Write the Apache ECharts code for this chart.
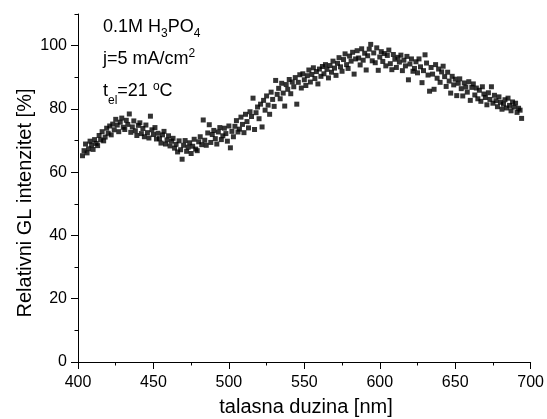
<!DOCTYPE html>
<html>
<head>
<meta charset="UTF-8">
<title>GL spektar</title>
<script src="https://cdn.jsdelivr.net/npm/echarts@6/dist/echarts.min.js"></script>
<style>
  html, body { margin: 0; padding: 0; background: #fff; }
  #chart { width: 547px; height: 419px; }
</style>
</head>
<body>
<div id="chart"></div>
<script>
// talasna duzina [nm]: prva tacka i korak mjerenja
const lambdaStart = 403;
const lambdaStep = 1;

// relativni GL intenzitet [%], ocitano sa slike (403..694 nm)
const intenzitet = [
  65.2, 66.8, 68.9, 66.1, 67.4, 69.8, 68.6, 67.2, 70.3, 69.1,
  68.4, 71.6, 70.2, 72.8, 69.9, 71.1, 73.9, 72.3, 74.6, 71.8,
  75.2, 73.4, 76.7, 74.9, 72.8, 75.8, 77.1, 74.2, 73.5, 76.4,
  75.1, 78.4, 72.6, 74.3, 76.2, 73.1, 71.6, 74.8, 75.6, 72.2,
  73.8, 71.2, 74.9, 72.5, 70.8, 77.7, 73.4, 71.9, 74.1, 70.5,
  72.3, 70.6, 69.2, 71.8, 72.9, 68.9, 70.2, 71.5, 68.3, 69.8,
  70.7, 67.6, 68.8, 66.4, 69.9, 67.1, 64.1, 68.5, 70.0, 66.6,
  67.9, 69.3, 65.9, 68.2, 70.4, 67.3, 66.8, 69.6, 71.2, 68.7,
  76.5, 70.1, 68.5, 72.4, 75.0, 69.4, 71.9, 73.2, 70.6, 68.9,
  72.7, 74.1, 70.3, 71.5, 73.9, 72.2, 69.8, 74.6, 67.7, 72.9,
  71.2, 74.5, 76.3, 72.7, 73.6, 77.4, 75.1, 72.5, 78.3, 76.0,
  74.0, 79.1, 77.6, 83.4, 73.5, 78.8, 80.6, 76.9, 81.5, 74.3,
  82.7, 79.6, 84.1, 81.2, 78.3, 85.3, 83.0, 80.8, 89.0, 84.6,
  86.5, 83.2, 88.1, 85.0, 80.9, 87.7, 86.2, 89.3, 84.8, 88.5,
  87.0, 89.9, 81.5, 88.4, 90.8, 86.6, 91.1, 89.2, 87.4, 90.5,
  92.3, 88.5, 90.9, 93.0, 89.6, 91.8, 87.9, 92.6, 90.3, 93.4,
  91.1, 94.0, 92.5, 89.8, 93.7, 91.6, 95.1, 92.9, 90.6, 94.4,
  96.2, 93.3, 91.9, 95.6, 97.4, 94.0, 92.8, 96.7, 95.1, 97.9,
  91.0, 95.8, 98.4, 96.1, 93.9, 99.0, 95.4, 97.6, 92.3, 96.8,
  98.9, 100.4, 95.2, 97.7, 94.6, 99.3, 92.2, 96.4, 98.1, 95.0,
  97.5, 93.6, 96.9, 98.6, 94.3, 92.4, 97.2, 95.7, 93.1, 96.3,
  94.8, 97.0, 92.1, 95.4, 93.6, 96.6, 89.2, 94.2, 95.8, 91.9,
  92.8, 94.9, 91.4, 95.8, 93.3, 88.3, 92.1, 97.1, 94.5, 90.7,
  85.6, 93.1, 91.0, 86.2, 94.0, 89.7, 92.6, 88.4, 91.7, 93.5,
  90.2, 87.1, 91.6, 88.8, 85.0, 90.3, 87.6, 89.4, 84.2, 88.1,
  89.5, 86.4, 84.1, 88.2, 86.9, 85.3, 88.6, 82.7, 86.8, 87.9,
  84.4, 86.6, 83.2, 85.9, 82.4, 87.0, 84.7, 83.6, 81.3, 85.1,
  83.0, 87.0, 81.8, 84.3, 82.6, 80.7, 83.8, 82.1, 79.9, 81.5,
  82.9, 80.3, 83.4, 81.1, 79.4, 82.2, 80.6, 81.8, 78.9, 80.2,
  79.6, 77.0
];

const yLabels = [0, 20, 40, 60, 80, 100];
const yMinor = [10, 30, 50, 70, 90, 110];

const FONT = "'Liberation Sans', Arial, sans-serif";

const points = intenzitet.map((v, i) => [lambdaStart + i * lambdaStep, v]);

const gridBox = { left: 78, right: 15, top: 14, bottom: 57 };

const chart = echarts.init(document.getElementById('chart'), null, { renderer: 'canvas' });
chart.setOption({
  animation: false,
  backgroundColor: '#fff',
  grid: [
    Object.assign({ containLabel: false }, gridBox),
    Object.assign({ containLabel: false }, gridBox)
  ],
  xAxis: [{
    type: 'value', gridIndex: 0,
    min: 400, max: 700, interval: 50,
    axisLine: { lineStyle: { color: '#000', width: 1 } },
    axisTick: { length: 7, lineStyle: { color: '#000' } },
    minorTick: { show: true, splitNumber: 2, length: 3.5, lineStyle: { color: '#000' } },
    axisLabel: { color: '#000', fontSize: 16, fontFamily: FONT, margin: 13 },
    splitLine: { show: false }
  }, {
    type: 'value', gridIndex: 1, min: 400, max: 700, show: false
  }],
  yAxis: [{
    type: 'value', gridIndex: 0,
    min: 0, max: 110, interval: 10,
    axisLine: { show: true, lineStyle: { color: '#000', width: 1 } },
    axisTick: { show: true, length: 7, customValues: yLabels, lineStyle: { color: '#000' } },
    axisLabel: { color: '#000', fontSize: 16, fontFamily: FONT, margin: 11, customValues: yLabels },
    splitLine: { show: false }
  }, {
    type: 'value', gridIndex: 1,
    min: 0, max: 110, interval: 10,
    axisLine: { show: false },
    axisTick: { show: true, length: 3.5, customValues: yMinor, lineStyle: { color: '#000' } },
    axisLabel: { show: false },
    splitLine: { show: false }
  }],
  series: [{
    type: 'scatter',
    xAxisIndex: 0, yAxisIndex: 0,
    data: points,
    symbol: 'rect',
    symbolSize: 5,
    itemStyle: { color: '#000' }
  }],
  graphic: [{
    type: 'text', left: 103, top: 15,
    style: {
      text: '0.1M H{sb|3}PO{sb|4}',
      fontSize: 18, fontFamily: FONT, fill: '#000', lineHeight: 24,
      rich: { sb: { fontSize: 12, fontFamily: FONT, height: 11, verticalAlign: 'bottom' } }
    }
  }, {
    type: 'text', left: 103, top: 47,
    style: {
      text: 'j=5 mA/cm{sp|2}',
      fontSize: 18, fontFamily: FONT, fill: '#000', lineHeight: 24,
      rich: { sp: { fontSize: 12, fontFamily: FONT, height: 14, verticalAlign: 'top' } }
    }
  }, {
    type: 'text', left: 103, top: 79,
    style: {
      text: 't{sb|el}=21 {sp|o}C',
      fontSize: 18, fontFamily: FONT, fill: '#000', lineHeight: 24,
      rich: {
        sb: { fontSize: 12, fontFamily: FONT, height: 4, verticalAlign: 'bottom' },
        sp: { fontSize: 12, fontFamily: FONT, height: 15, verticalAlign: 'top' }
      }
    }
  }, {
    type: 'text', x: 25, y: 203, rotation: Math.PI / 2,
    style: {
      text: 'Relativni GL intenzitet [%]',
      fontSize: 20, fontFamily: FONT, fill: '#000',
      align: 'center', verticalAlign: 'middle'
    }
  }, {
    type: 'text', x: 306, y: 407,
    style: {
      text: 'talasna duzina [nm]',
      fontSize: 20, fontFamily: FONT, fill: '#000',
      align: 'center', verticalAlign: 'middle'
    }
  }]
});
</script>
</body>
</html>
